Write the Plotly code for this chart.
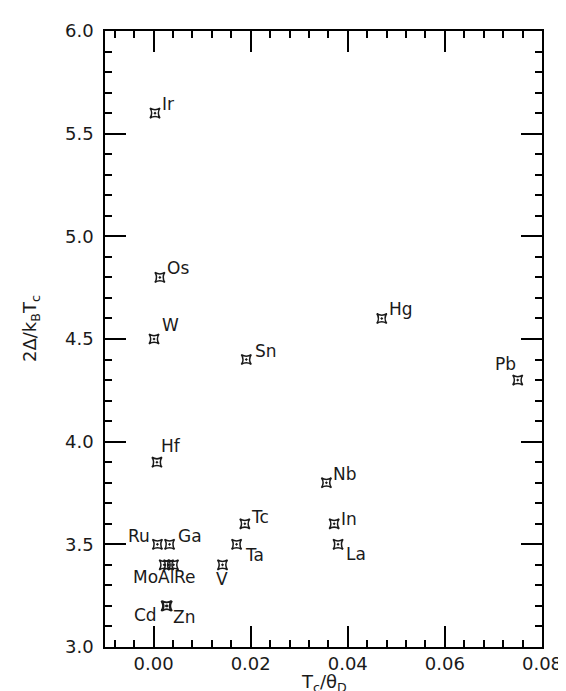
import plotly.graph_objects as go

# ---- data ----
elements = ["Ir", "Os", "W", "Hf", "Ru", "Ga", "Mo", "Al", "Re", "Cd", "Zn",
            "V", "Ta", "Tc", "Sn", "Nb", "In", "La", "Hg", "Pb"]
tc_over_theta = [0.0003, 0.0013, 0.0001, 0.0007, 0.0008, 0.0033, 0.0022, 0.0031,
                 0.0041, 0.0026, 0.0028, 0.0142, 0.0171, 0.0188, 0.0191, 0.0356,
                 0.0372, 0.0380, 0.0470, 0.0750]
gap_ratio = [5.6, 4.8, 4.5, 3.9, 3.5, 3.5, 3.4, 3.4, 3.4, 3.2, 3.2,
             3.4, 3.5, 3.6, 4.4, 3.8, 3.6, 3.5, 4.6, 4.3]
x_title = "T<sub>c</sub>/θ<sub>D</sub>"
y_title = "2Δ/k<sub>B</sub>T<sub>c</sub>"

# label placement (style): xanchor, xshift, yshift in px
label_style = {
    "Ir": ("left", 5, 9), "Os": ("left", 5, 9), "W": ("left", 6, 14),
    "Hf": ("left", 2, 16), "Ru": ("right", -5, 8), "Ga": ("left", 6, 8),
    "Mo": ("right", -4, -12), "Al": ("center", -3, -12), "Re": ("left", -1, -12),
    "Cd": ("right", -7, -9), "Zn": ("left", 4, -11), "V": ("center", -1, -14),
    "Ta": ("left", 6, -11), "Tc": ("left", 4, 7), "Sn": ("left", 7, 9),
    "Nb": ("left", 5, 9), "In": ("left", 5, 5), "La": ("left", 6, -10),
    "Hg": ("left", 5, 9), "Pb": ("right", 0, 16),
}

FONT = "DejaVu Sans"
INK = "#1a1a1a"

fig = go.Figure()
fig.add_trace(go.Scatter(
    x=tc_over_theta, y=gap_ratio, mode="markers",
    marker=dict(symbol="star-square-open-dot", size=9, color=INK,
                line=dict(color=INK, width=1.5)),
    hoverinfo="skip", showlegend=False,
))

for name, xv, yv in zip(elements, tc_over_theta, gap_ratio):
    xa, xs, ys = label_style[name]
    fig.add_annotation(x=xv, y=yv, text=name, showarrow=False,
                       xanchor=xa, yanchor="middle", xshift=xs, yshift=ys,
                       font=dict(family=FONT, size=17, color=INK))

# axis titles
fig.add_annotation(xref="paper", yref="paper", x=0.5, y=0, yanchor="top",
                   yshift=-22, text=x_title, showarrow=False,
                   font=dict(family=FONT, size=18, color=INK))
fig.add_annotation(xref="paper", yref="paper", x=0, y=0.5, xanchor="center",
                   xshift=-74, yshift=10, textangle=-90, text=y_title,
                   showarrow=False, font=dict(family=FONT, size=18, color=INK))

fig.update_xaxes(
    range=[-0.01, 0.08], showline=True, linecolor="black", linewidth=1.5,
    mirror="allticks", ticks="inside", ticklen=21, tickwidth=1.5,
    tickcolor="black", dtick=0.02, tick0=0, tickformat=".2f",
    minor=dict(dtick=0.004, tick0=0, ticks="inside", ticklen=7,
               tickwidth=1.5, tickcolor="black"),
    showgrid=False, zeroline=False,
    tickfont=dict(family=FONT, size=18, color=INK),
)
fig.update_yaxes(
    range=[3, 6], showline=True, linecolor="black", linewidth=1.5,
    mirror="allticks", ticks="inside", ticklen=21, tickwidth=1.5,
    tickcolor="black", dtick=0.5, tick0=3, tickformat=".1f",
    ticklabelstandoff=6,
    minor=dict(dtick=0.1, tick0=3, ticks="inside", ticklen=7,
               tickwidth=1.5, tickcolor="black"),
    showgrid=False, zeroline=False,
    tickfont=dict(family=FONT, size=18, color=INK),
)
fig.update_layout(width=566, height=691, margin=dict(l=97, r=29, t=19, b=52),
                  plot_bgcolor="white", paper_bgcolor="white", showlegend=False)
fig.write_html("out.html")
